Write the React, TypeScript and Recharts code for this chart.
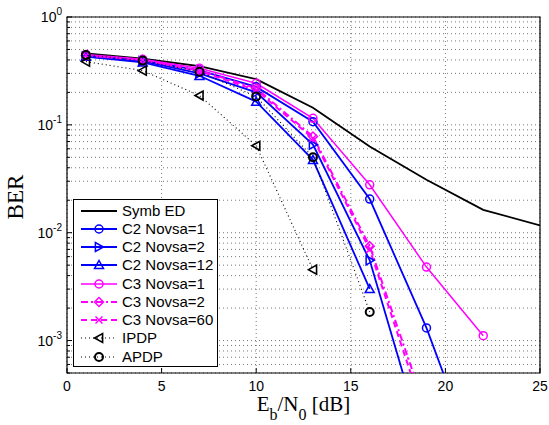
import React from 'react';
import {
  LineChart, Line, XAxis, YAxis, CartesianGrid, ReferenceArea, Legend
} from 'recharts';

// Eb/N0 sample points [dB]
const ebn0 = [1, 4, 7, 10, 13, 16, 19, 22, 25];

// BER per curve (null = not simulated)
const symbEd = [0.46, 0.41, 0.35, 0.265, 0.144, 0.063, 0.031, 0.0163, 0.0117];
const c2Novsa1 = [0.44, 0.395, 0.32, 0.225, 0.107, 0.0205, 0.00131, 0.00005, null];
const c2Novsa2 = [0.43, 0.39, 0.3, 0.2, 0.0655, 0.00554, 0.00009, null, null];
const c2Novsa12 = [0.43, 0.38, 0.285, 0.164, 0.0474, 0.00301, null, null, null];
const c3Novsa1 = [0.45, 0.405, 0.335, 0.243, 0.115, 0.0278, 0.0048, 0.00111, null];
const c3Novsa2 = [0.44, 0.4, 0.32, 0.218, 0.078, 0.0075, 0.00022, null, null];
const c3Novsa60 = [0.44, 0.4, 0.315, 0.21, 0.075, 0.007, 0.00018, null, null];
const ipdp = [0.386, 0.318, 0.187, 0.064, 0.00454, null, null, null, null];
const apdp = [0.445, 0.394, 0.311, 0.183, 0.05, 0.00184, null, null, null];

const xTicks = [0, 5, 10, 15, 20, 25];
const yTicks = [
  5e-4, 6e-4, 7e-4, 8e-4, 9e-4,
  1e-3, 2e-3, 3e-3, 4e-3, 5e-3, 6e-3, 7e-3, 8e-3, 9e-3,
  1e-2, 2e-2, 3e-2, 4e-2, 5e-2, 6e-2, 7e-2, 8e-2, 9e-2,
  0.1, 0.2, 0.3, 0.4, 0.5, 0.6, 0.7, 0.8, 0.9, 1,
];

const BLUE = '#0000ff';
const MAGENTA = '#ff00ff';
const SANS = '"Liberation Sans", Arial, sans-serif';
const SERIF = '"Liberation Serif", "Times New Roman", serif';

type Shape = 'none' | 'circle' | 'tri-right' | 'tri-up' | 'tri-left' | 'diamond' | 'cross';

const series: {
  key: string; name: string; values: (number | null)[]; color: string;
  width: number; dash?: string; shape: Shape; markerWidth: number;
}[] = [
  { key: 'symbEd', name: 'Symb ED', values: symbEd, color: '#000', width: 1.8, shape: 'none', markerWidth: 1.5 },
  { key: 'c2n1', name: 'C2 Novsa=1', values: c2Novsa1, color: BLUE, width: 1.8, shape: 'circle', markerWidth: 1.5 },
  { key: 'c2n2', name: 'C2 Novsa=2', values: c2Novsa2, color: BLUE, width: 1.8, shape: 'tri-right', markerWidth: 1.5 },
  { key: 'c2n12', name: 'C2 Novsa=12', values: c2Novsa12, color: BLUE, width: 1.8, shape: 'tri-up', markerWidth: 1.5 },
  { key: 'c3n1', name: 'C3 Novsa=1', values: c3Novsa1, color: MAGENTA, width: 1.5, shape: 'circle', markerWidth: 1.5 },
  { key: 'c3n2', name: 'C3 Novsa=2', values: c3Novsa2, color: MAGENTA, width: 2, dash: '7 3 2 3', shape: 'diamond', markerWidth: 1.5 },
  { key: 'c3n60', name: 'C3 Novsa=60', values: c3Novsa60, color: MAGENTA, width: 2, dash: '6 4', shape: 'cross', markerWidth: 1.5 },
  { key: 'ipdp', name: 'IPDP', values: ipdp, color: '#000', width: 1.1, dash: '1 3', shape: 'tri-left', markerWidth: 1.6 },
  { key: 'apdp', name: 'APDP', values: apdp, color: '#000', width: 1.1, dash: '1 3', shape: 'circle', markerWidth: 2 },
];

const data = ebn0.map((x, i) => {
  const row: Record<string, number | null> = { x };
  series.forEach((s) => { row[s.key] = s.values[i]; });
  return row;
});

function Marker({ cx, cy, shape, color, sw }: { cx: number; cy: number; shape: Shape; color: string; sw: number }) {
  const s = 4.5;
  const common = { fill: 'none', stroke: color, strokeWidth: sw };
  switch (shape) {
    case 'circle':
      return <circle cx={cx} cy={cy} r={4} {...common} />;
    case 'tri-right':
      return <polygon points={`${cx - s * 0.8},${cy - s} ${cx - s * 0.8},${cy + s} ${cx + s},${cy}`} {...common} />;
    case 'tri-left':
      return <polygon points={`${cx + s * 0.8},${cy - s} ${cx + s * 0.8},${cy + s} ${cx - s},${cy}`} {...common} />;
    case 'tri-up':
      return <polygon points={`${cx - s},${cy + s * 0.8} ${cx + s},${cy + s * 0.8} ${cx},${cy - s}`} {...common} />;
    case 'diamond':
      return <polygon points={`${cx},${cy - s} ${cx + s},${cy} ${cx},${cy + s} ${cx - s},${cy}`} {...common} />;
    case 'cross':
      return (
        <g {...common}>
          <line x1={cx - 3.5} y1={cy - 3.5} x2={cx + 3.5} y2={cy + 3.5} />
          <line x1={cx - 3.5} y1={cy + 3.5} x2={cx + 3.5} y2={cy - 3.5} />
        </g>
      );
    default:
      return null;
  }
}

const dotRenderer = (shape: Shape, color: string, sw: number) => (p: any) => {
  const k = `${p.dataKey}-${p.index}`;
  if (p.value == null || p.cy == null || Number.isNaN(p.cy)) return <g key={k} />;
  return <g key={k}><Marker cx={p.cx} cy={p.cy} shape={shape} color={color} sw={sw} /></g>;
};

const isMajor = (v: number) => {
  const l = Math.log10(v);
  return Math.abs(l - Math.round(l)) < 1e-9;
};

const YTickLeft = (props: any) => {
  const { x, y, payload } = props;
  const v = payload.value as number;
  const major = isMajor(v);
  const exp = Math.round(Math.log10(v));
  return (
    <g>
      <line x1={x} x2={x + (major ? 5 : 3)} y1={y} y2={y} stroke="#000" />
      {major && (
        <text x={x - 5} y={y + 5} textAnchor="end" fontFamily={SANS} fontSize={14} fill="#000">
          10<tspan dy={-7} fontSize={10}>{exp}</tspan>
        </text>
      )}
    </g>
  );
};

const YTickRight = (props: any) => {
  const { x, y, payload } = props;
  const major = isMajor(payload.value);
  return <line x1={x} x2={x - (major ? 5 : 3)} y1={y} y2={y} stroke="#000" />;
};

const XTickBottom = (props: any) => {
  const { x, y, payload } = props;
  return (
    <g>
      <line x1={x} x2={x} y1={y} y2={y - 5} stroke="#000" />
      <text x={x} y={y + 18} textAnchor="middle" fontFamily={SANS} fontSize={14} fill="#000">
        {payload.value}
      </text>
    </g>
  );
};

const XTickTop = (props: any) => {
  const { x, y } = props;
  return <line x1={x} x2={x} y1={y} y2={y + 5} stroke="#000" />;
};

const XLabel = (props: any) => {
  const vb = props.viewBox;
  const cx = vb.x + vb.width / 2;
  return (
    <text x={cx} y={vb.y + 38} textAnchor="middle" fontFamily={SERIF} fontSize={21} fill="#000">
      E<tspan dy={9} fontSize={16}>b</tspan>
      <tspan dy={-9}>/N</tspan>
      <tspan dy={9} fontSize={16}>0</tspan>
      <tspan dy={-9}> [dB]</tspan>
    </text>
  );
};

const YLabel = (props: any) => {
  const vb = props.viewBox;
  const cy = vb.y + vb.height / 2 + 2;
  const bx = 23;
  return (
    <text x={bx} y={cy} transform={`rotate(-90, ${bx}, ${cy})`} textAnchor="middle"
      fontFamily={SERIF} fontSize={23} fill="#000">
      BER
    </text>
  );
};

function LegendBox() {
  return (
    <div style={{
      width: 145, height: 168, boxSizing: 'border-box', border: '1px solid #000',
      background: '#fff', paddingTop: 1.5,
    }}>
      {series.map((s) => (
        <div key={s.key} style={{ display: 'flex', alignItems: 'center', height: 18.25 }}>
          <svg width={47} height={18} style={{ display: 'block' }}>
            <line x1={7} x2={43} y1={9} y2={9} stroke={s.color} strokeWidth={s.width}
              strokeDasharray={s.dash} />
            <Marker cx={25} cy={9} shape={s.shape} color={s.color} sw={s.markerWidth} />
          </svg>
          <span style={{ fontFamily: SANS, fontSize: 15, color: '#000', marginLeft: 1, lineHeight: '18px' }}>
            {s.name}
          </span>
        </div>
      ))}
    </div>
  );
}

export default function App() {
  return (
    <div style={{ position: 'absolute', left: 0, top: 0, width: 549, height: 425, background: '#fff' }}>
      <LineChart width={549} height={425} data={data} margin={{ top: 17, right: 9, bottom: 0, left: 0 }}>
        <CartesianGrid stroke="#555" strokeWidth={0.8} strokeDasharray="1 3" />
        <XAxis dataKey="x" type="number" domain={[0, 25]} ticks={xTicks} allowDataOverflow
          height={52} tickSize={0} tickMargin={0} tickLine={false} axisLine={false}
          tick={<XTickBottom />} label={XLabel} />
        <XAxis xAxisId="top" orientation="top" type="number" domain={[0, 25]} ticks={xTicks}
          allowDataOverflow height={0} tickSize={0} tickMargin={0} tickLine={false} axisLine={false}
          tick={<XTickTop />} />
        <YAxis type="number" scale="log" domain={[5e-4, 1]} ticks={yTicks} allowDataOverflow
          width={67} tickSize={0} tickMargin={0} tickLine={false} axisLine={false}
          interval={0} tick={<YTickLeft />} label={YLabel} />
        <YAxis yAxisId="right" orientation="right" type="number" scale="log" domain={[5e-4, 1]}
          ticks={yTicks} allowDataOverflow width={0} tickSize={0} tickMargin={0} tickLine={false}
          axisLine={false} interval={0} tick={<YTickRight />} />
        <ReferenceArea x1={0} x2={25} y1={5e-4} y2={1} fill="none" stroke="#000" strokeWidth={1.2}
          fillOpacity={0} />
        {series.map((s) => (
          <Line key={s.key} dataKey={s.key} name={s.name} type="linear" stroke={s.color}
            strokeWidth={s.width} strokeDasharray={s.dash} connectNulls={false}
            dot={s.shape === 'none' ? false : dotRenderer(s.shape, s.color, s.markerWidth)}
            activeDot={false} isAnimationActive={false} />
        ))}
        <Legend layout="vertical" align="center" verticalAlign="middle"
          wrapperStyle={{ left: 73, top: 199, width: 145, height: 168 }}
          content={() => <LegendBox />} />
      </LineChart>
    </div>
  );
}
